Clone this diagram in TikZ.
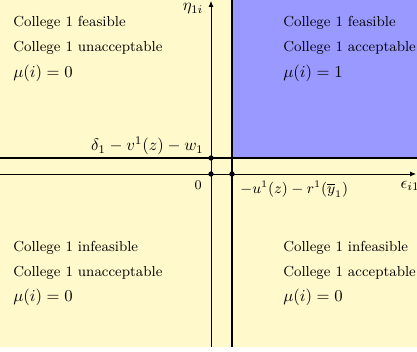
\documentclass[tikz,border=0pt]{standalone}
\usetikzlibrary{arrows.meta}
\definecolor{bgyellow}{RGB}{255,249,204}
\definecolor{regblue}{RGB}{153,153,255}
\begin{document}
\begin{tikzpicture}[x=0.6pt,y=-0.6pt,
  lbl/.style={anchor=west,inner sep=0pt,font=\fontsize{8.7}{10.5}\selectfont},
  mulbl/.style={anchor=west,inner sep=0pt},
  dot/.style={circle,fill=black,inner sep=0pt,minimum size=3.2pt},
  axisline/.style={line width=0.5pt,-{Latex[length=3.5pt,width=3pt]}},
  bound/.style={line width=1pt}]
\useasboundingbox (0,0) rectangle (417,351);
\fill[bgyellow] (0,0) rectangle (417,347);
\fill[regblue] (232,0) rectangle (417,158);
% coordinates
\coordinate (xs) at (0,174);
\coordinate (xe) at (416,174);
\coordinate (ys) at (211,347);
\coordinate (ye) at (211,1);
\coordinate (hs) at (0,158);
\coordinate (he) at (417,158);
\coordinate (vs) at (232,0);
\coordinate (ve) at (232,347);
% axes and boundaries
\draw[axisline] (xs) -- (xe);
\draw[axisline] (ys) -- (ye);
\draw[bound] (hs) -- (he);
\draw[bound] (vs) -- (ve);
% dots
\node[dot] (d1) at (211,158) {};
\node[dot] (d2) at (211,174) {};
\node[dot] (d3) at (232,174) {};
% axis labels
\node (eta) at (193,9) {$\eta_{1i}$};
\node (eps) at (410,186) {$\epsilon_{i1}$};
\node[anchor=east,inner sep=0pt] (delta) at (204,146) {$\delta_1-v^1(z)-w_1$};
\node[anchor=east,inner sep=0pt,font=\fontsize{8.5}{10}\selectfont] (zero) at (202,185) {$0$};
\node[anchor=west,inner sep=0pt,font=\fontsize{9}{11}\selectfont] (uval) at (240,189) {$-u^1(z)-r^1(\overline{y}_1)$};
% region texts
\node[lbl] (tl1) at (13,23) {College 1 feasible};
\node[lbl] (tl2) at (13,48) {College 1 unacceptable};
\node[mulbl] (tl3) at (13,73) {$\mu(i)=0$};
\node[lbl] (tr1) at (283,23) {College 1 feasible};
\node[lbl] (tr2) at (283,48) {College 1 acceptable};
\node[mulbl] (tr3) at (283,73) {$\mu(i)=1$};
\node[lbl] (bl1) at (13,248) {College 1 infeasible};
\node[lbl] (bl2) at (13,273) {College 1 unacceptable};
\node[mulbl] (bl3) at (13,297) {$\mu(i)=0$};
\node[lbl] (br1) at (283,248) {College 1 infeasible};
\node[lbl] (br2) at (283,273) {College 1 acceptable};
\node[mulbl] (br3) at (283,297) {$\mu(i)=0$};
\end{tikzpicture}
\end{document}
